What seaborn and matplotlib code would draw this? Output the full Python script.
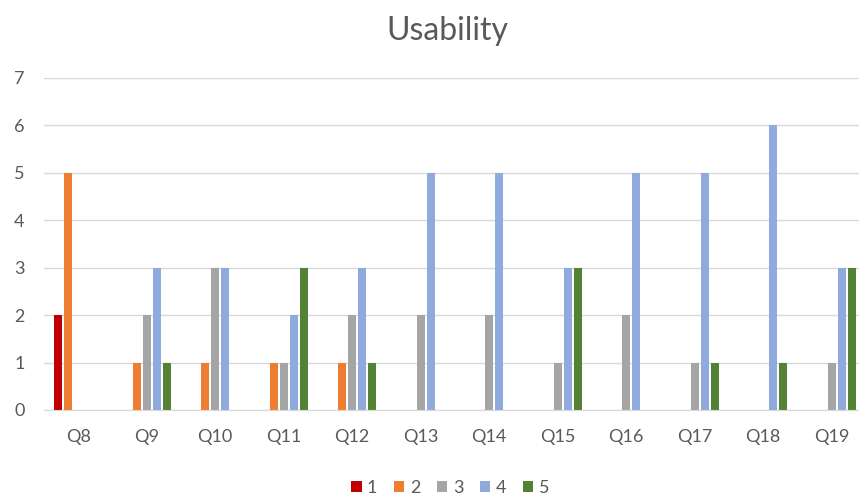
import numpy as np
import pandas as pd
import matplotlib
matplotlib.use('Agg')
import matplotlib.pyplot as plt
import seaborn as sns

questions = ['Q8', 'Q9', 'Q10', 'Q11', 'Q12', 'Q13', 'Q14', 'Q15', 'Q16', 'Q17', 'Q18', 'Q19']
score_1 = [2, 0, 0, 0, 0, 0, 0, 0, 0, 0, 0, 0]
score_2 = [5, 1, 1, 1, 1, 0, 0, 0, 0, 0, 0, 0]
score_3 = [0, 2, 3, 1, 2, 2, 2, 1, 2, 1, 0, 1]
score_4 = [0, 3, 3, 2, 3, 5, 5, 3, 5, 5, 6, 3]
score_5 = [0, 1, 0, 3, 1, 0, 0, 3, 0, 1, 1, 3]
series_names = ['1', '2', '3', '4', '5']
colors = ['#C00000', '#ED7D31', '#A5A5A5', '#8FAADC', '#548235']

#%% long format for seaborn
rows = []
for name, vals in zip(series_names, [score_1, score_2, score_3, score_4, score_5]):
    for q, v in zip(questions, vals):
        rows.append({'question': q, 'score': name, 'count': v})
df = pd.DataFrame(rows)

sns.set_style('white')
plt.rcParams['font.family'] = ['Lato', 'DejaVu Sans']

fig = plt.figure(figsize=(8.59, 4.97), dpi=100)
ax = fig.add_axes([44 / 859, 1 - 410 / 497, 815 / 859, 332 / 497])

sns.barplot(data=df, x='question', y='count', hue='score', palette=colors,
            saturation=1, width=0.73, gap=0.2, linewidth=0, ax=ax)

ax.set_ylim(0, 7)
ax.set_xlim(-0.5, 11.4)
ax.set_yticks(range(0, 8))
ax.yaxis.grid(True, color='#D9D9D9', linewidth=1)
ax.set_axisbelow(True)
for s in ['top', 'right', 'left']:
    ax.spines[s].set_visible(False)
ax.spines['bottom'].set_color('#D9D9D9')
ax.tick_params(axis='both', length=0, labelsize=13, labelcolor='#595959')
ax.tick_params(axis='x', pad=14)
ax.tick_params(axis='y', pad=14)
ax.set_xlabel('')
ax.set_ylabel('')

fig.text(447 / 859, 1 - 31 / 497, 'Usability', ha='center', va='center',
         fontsize=23, color='#595959')

ax.legend(loc='center', bbox_to_anchor=((450 - 44) / 815, -(488 - 410) / 332),
          ncol=5, frameon=False, fontsize=13, handlelength=0.6, handleheight=0.6,
          handletextpad=0.3, columnspacing=0.9, labelcolor='#595959')

fig.savefig('out.png', dpi=100)
